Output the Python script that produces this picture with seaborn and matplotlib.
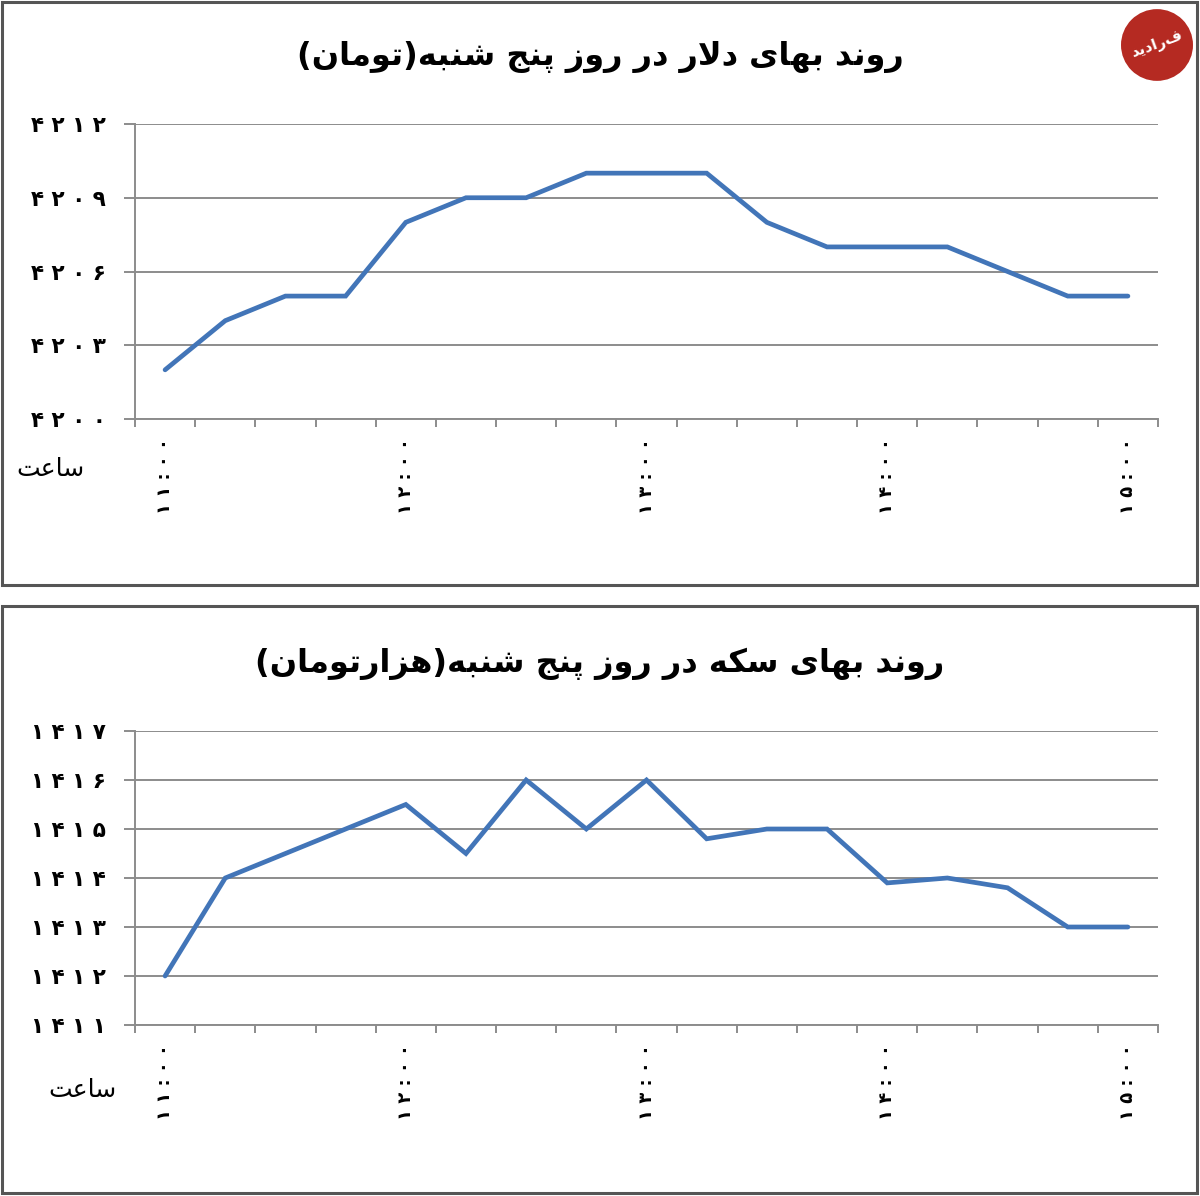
import numpy as np
import pandas as pd
import matplotlib
matplotlib.use('Agg')
import matplotlib.pyplot as plt
from matplotlib.patches import Rectangle, Circle
import seaborn as sns

sns.set_style('white')
plt.rcParams['font.family'] = ['DejaVu Sans']
plt.rcParams['text.color'] = 'black'
plt.rcParams['xtick.labelcolor'] = 'black'
plt.rcParams['ytick.labelcolor'] = 'black'

# Data
times = ['11:00', '11:15', '11:30', '11:45', '12:00', '12:15', '12:30', '12:45',
         '13:00', '13:15', '13:30', '13:45', '14:00', '14:15', '14:30', '14:45', '15:00']
dollar = [4202, 4204, 4205, 4205, 4208, 4209, 4209, 4210, 4210, 4210,
          4208, 4207, 4207, 4207, 4206, 4205, 4205]
coin = [1412, 1414, 1414.5, 1415, 1415.5, 1414.5, 1416, 1415, 1416, 1414.8,
        1415, 1415, 1413.9, 1414, 1413.8, 1413, 1413]
dollar_ticks = [4200, 4203, 4206, 4209, 4212]
coin_ticks = [1411, 1412, 1413, 1414, 1415, 1416, 1417]
title_dollar = 'روند بهای دلار در روز پنج شنبه(تومان)'
title_coin = 'روند بهای سکه در روز پنج شنبه(هزارتومان)'
hour_word = 'ساعت'

# --- minimal Persian shaping (matplotlib has no RTL / joining) ---
FORMS = {  # isolated, final, initial, medial
    'ا': ('\uFE8D', '\uFE8E', None, None),
    'ب': ('\uFE8F', '\uFE90', '\uFE91', '\uFE92'),
    'پ': ('\uFB56', '\uFB57', '\uFB58', '\uFB59'),
    'ت': ('\uFE95', '\uFE96', '\uFE97', '\uFE98'),
    'ج': ('\uFE9D', '\uFE9E', '\uFE9F', '\uFEA0'),
    'د': ('\uFEA9', '\uFEAA', None, None),
    'ر': ('\uFEAD', '\uFEAE', None, None),
    'ز': ('\uFEAF', '\uFEB0', None, None),
    'س': ('\uFEB1', '\uFEB2', '\uFEB3', '\uFEB4'),
    'ش': ('\uFEB5', '\uFEB6', '\uFEB7', '\uFEB8'),
    'ع': ('\uFEC9', '\uFECA', '\uFECB', '\uFECC'),
    'ک': ('\uFB8E', '\uFB8F', '\uFB90', '\uFB91'),
    'ل': ('\uFEDD', '\uFEDE', '\uFEDF', '\uFEE0'),
    'م': ('\uFEE1', '\uFEE2', '\uFEE3', '\uFEE4'),
    'ن': ('\uFEE5', '\uFEE6', '\uFEE7', '\uFEE8'),
    'ه': ('\uFEE9', '\uFEEA', '\uFEEB', '\uFEEC'),
    'و': ('\uFEED', '\uFEEE', None, None),
    'ی': ('\uFBFC', '\uFBFD', '\uFBFE', '\uFBFF'),
}


def fa(text):
    out = []
    i = 0
    n = len(text)
    while i < n:
        c = text[i]
        if c not in FORMS:
            out.append(c)
            i += 1
            continue
        prev = text[i - 1] if i > 0 else None
        prev_joins = prev in FORMS and FORMS[prev][2] is not None
        if c == 'ل' and i + 1 < n and text[i + 1] == 'ا':
            out.append('\uFEFC' if prev_joins else '\uFEFB')
            i += 2
            continue
        nxt = text[i + 1] if i + 1 < n else None
        next_joins = nxt in FORMS and FORMS[c][2] is not None
        iso, fin, ini, med = FORMS[c]
        if prev_joins and next_joins:
            out.append(med)
        elif prev_joins:
            out.append(fin)
        elif next_joins:
            out.append(ini)
        else:
            out.append(iso)
        i += 1
    s = ''.join(reversed(out))
    return s.translate(str.maketrans('()', ')('))


def fa_digits(s, spaced=False):
    s = str(s).translate(str.maketrans('0123456789', '۰۱۲۳۴۵۶۷۸۹'))
    return ' '.join(s) if spaced else s


W, H = 1200, 1196
fig = plt.figure(figsize=(W / 100, H / 100), dpi=100)
blue = '#4275b8'
grid_c = '#8c8c8c'


def panel(y_top, y_bot, box, values, yticks, title, title_y, word_x, word_y):
    # panel frame
    x0, y0, x1, y1 = box
    fig.patches.append(Rectangle((x0 / W, 1 - y1 / H), (x1 - x0) / W, (y1 - y0) / H,
                                 transform=fig.transFigure, fill=False,
                                 edgecolor='#555555', lw=2.2))
    ax = fig.add_axes([135 / W, 1 - y_bot / H, 1023 / W, (y_bot - y_top) / H])
    x = np.arange(len(times))
    df = pd.DataFrame({'pos': x, 'val': values})
    sns.lineplot(data=df, x='pos', y='val', ax=ax, color=blue, lw=3.4,
                 solid_capstyle='round', solid_joinstyle='miter')
    ax.set_xlim(-0.5, len(times) - 0.5)
    ax.set_ylim(yticks[0], yticks[-1])
    ax.set_yticks(yticks)
    ax.set_yticklabels([fa_digits(v, spaced=True) for v in yticks],
                       fontsize=15.5, fontweight='bold')
    ax.yaxis.grid(True, color=grid_c, lw=1.4)
    ax.tick_params(axis='y', length=8, width=1.4, color=grid_c, pad=13, left=True)
    hour_pos = [i for i, t in enumerate(times) if t.endswith(':00')]
    ax.set_xticks(hour_pos)
    ax.set_xticklabels([fa_digits(times[i], spaced=True) for i in hour_pos], rotation=90,
                       fontsize=13, fontweight='bold', va='top')
    ax.set_xticks(np.arange(-0.5, len(times)), minor=True)
    ax.tick_params(axis='x', which='major', length=0, pad=14)
    ax.tick_params(axis='x', which='minor', length=6, width=1.4, color=grid_c,
                   bottom=True)
    for side in ['top', 'right']:
        ax.spines[side].set_visible(False)
    for side in ['left', 'bottom']:
        ax.spines[side].set_color(grid_c)
        ax.spines[side].set_linewidth(1.4)
    ax.set_xlabel('')
    ax.set_ylabel('')
    fig.text(600 / W, 1 - title_y / H, fa(title), ha='center', va='center',
             fontsize=23, fontweight='bold')
    fig.text(word_x / W, 1 - word_y / H, fa(hour_word), ha='left', va='center',
             fontsize=18)
    return ax


panel(124, 419, (2, 2, 1197, 585), dollar, dollar_ticks, title_dollar, 57, 16, 469)
panel(731, 1025, (2, 606, 1197, 1193), coin, coin_ticks, title_coin, 664, 48, 1090)

# site logo (top right)
fig.patches.append(Circle((1157 / W, 1 - 45 / H), 36 / W, transform=fig.transFigure,
                          facecolor='#b52a22', edgecolor='none'))
fig.text(1157 / W, 1 - 45 / H, fa('فرادید'), ha='center', va='center',
         color='white', fontsize=11, fontweight='bold', rotation=20)

fig.savefig('out.png', dpi=100)
